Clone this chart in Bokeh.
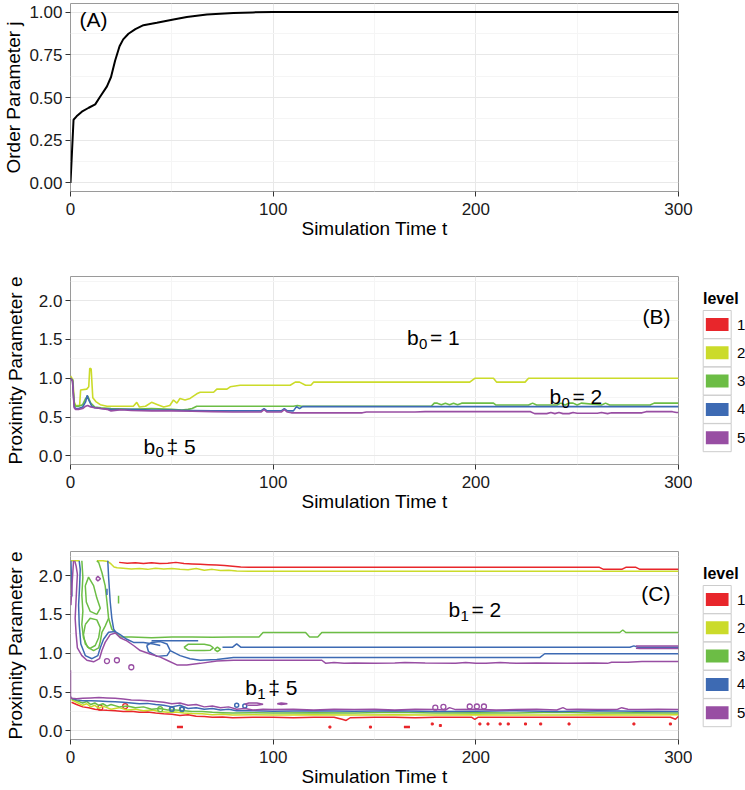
from bokeh.plotting import figure
from bokeh.models import Range1d, FixedTicker, PrintfTickFormatter, ColumnDataSource
from bokeh.layouts import column, row
from bokeh.embed import file_html
from bokeh.resources import INLINE
from bokeh.core.properties import value

FONT = "Liberation Sans"

# ---------------- data ----------------
x_ticks = [0, 100, 200, 300]
x_minor = [50, 150, 250]
a_y_ticks = [0, 0.25, 0.5, 0.75, 1.0]
a_y_minor = [0.125, 0.375, 0.625, 0.875]
e_ticks = [0, 0.5, 1.0, 1.5, 2.0]
e_minor = [0.25, 0.75, 1.25, 1.75, 2.25]
levels = ["1", "2", "3", "4", "5"]
level_colors = ["#E8262B", "#CBDB2A", "#6CBD45", "#3D6AB3", "#984EA3"]

# Panel A: order parameter
a_t = [0, 1.5, 3, 5.6, 9, 12.2, 14.6, 18, 20, 22, 24.2, 26, 28.6, 32, 36, 42.6, 50.8, 57.4, 67.3, 80.4, 90, 100, 300]
a_phi = [0.0, 0.37, 0.39, 0.417, 0.44, 0.46, 0.504, 0.565, 0.62, 0.715, 0.80, 0.84, 0.873, 0.90, 0.923, 0.937,
         0.956, 0.971, 0.985, 0.994, 0.998, 1.0, 1.0]

# Panel B: contour lines (levels 2-5)
b2_t = [0, 1.2, 1.8, 2.5, 4.5, 5, 8, 9, 9.5, 10.2, 11, 12.5, 14.7, 18, 25, 31, 32.7, 34, 37, 40, 43, 46, 49, 50.8,
        52.5, 54, 56.5, 59, 62.3, 64, 70.6, 72.2, 77.2, 78.8, 83.7, 108.4, 110.9, 113, 116, 118.6, 119.9, 197,
        199.5, 208.7, 210.3, 224.3, 226, 300]
b2_e = [1.03, 0.98, 0.70, 0.65, 0.65, 0.85, 0.86, 0.89, 1.13, 1.12, 0.75, 0.70, 0.66, 0.64, 0.64, 0.64, 0.69, 0.63,
        0.64, 0.69, 0.66, 0.63, 0.65, 0.72, 0.68, 0.74, 0.72, 0.74, 0.80, 0.82, 0.82, 0.86, 0.86, 0.89, 0.91, 0.91,
        0.95, 0.95, 0.91, 0.91, 0.95, 0.95, 1.0, 1.0, 0.95, 0.95, 1.0, 1.0]
b3_t = [0, 1, 1.8, 2.5, 4, 6, 7.5, 8.5, 10, 12, 15, 20, 30, 40, 50, 55, 58, 60, 62.3, 64, 70, 100, 110, 112, 114,
        178, 179.5, 181, 183, 185, 187, 189, 191, 193, 208.7, 210, 226, 228, 230, 240, 242, 244, 246, 248, 250,
        252, 262, 264, 266, 286, 288, 291.5, 300]
b3_e = [1.0, 0.98, 0.68, 0.64, 0.64, 0.66, 0.74, 0.77, 0.68, 0.63, 0.62, 0.61, 0.60, 0.61, 0.60, 0.59, 0.60, 0.61,
        0.64, 0.64, 0.64, 0.64, 0.64, 0.65, 0.64, 0.64, 0.68, 0.68, 0.66, 0.68, 0.66, 0.68, 0.66, 0.68, 0.68,
        0.655, 0.655, 0.68, 0.655, 0.655, 0.68, 0.655, 0.68, 0.68, 0.655, 0.68, 0.655, 0.68, 0.655, 0.655, 0.68,
        0.68, 0.68]
b4_t = [0, 1, 1.8, 2.5, 4, 6, 7.5, 8.2, 9, 10.5, 12, 15, 20, 30, 40, 50, 60, 70, 80, 94, 95.5, 97, 104, 105.5,
        107, 110, 111.5, 113, 114.5, 300]
b4_e = [1.0, 0.97, 0.64, 0.61, 0.61, 0.63, 0.70, 0.78, 0.72, 0.64, 0.62, 0.61, 0.60, 0.60, 0.59, 0.59, 0.585,
        0.58, 0.58, 0.58, 0.61, 0.58, 0.58, 0.61, 0.58, 0.58, 0.635, 0.61, 0.635, 0.635]
b5_t = [0, 1, 1.8, 2.5, 4, 6, 7.5, 8.5, 10, 12, 15, 18, 20, 25, 30, 40, 50, 60, 70, 80, 94, 95.5, 97, 104, 105.5,
        107, 109, 144, 146, 170, 175, 200, 227, 229, 235, 237, 239, 241, 243, 246, 248, 250, 260, 262, 265, 267,
        282, 284, 297, 299, 300]
b5_e = [1.0, 0.96, 0.62, 0.60, 0.60, 0.61, 0.64, 0.65, 0.63, 0.62, 0.61, 0.60, 0.58, 0.595, 0.585, 0.58, 0.58,
        0.575, 0.57, 0.565, 0.565, 0.595, 0.565, 0.565, 0.595, 0.565, 0.555, 0.555, 0.565, 0.565, 0.57, 0.57,
        0.57, 0.545, 0.545, 0.56, 0.545, 0.56, 0.545, 0.545, 0.56, 0.55, 0.55, 0.56, 0.545, 0.555, 0.555, 0.57,
        0.57, 0.56, 0.56]

# Panel C: contour lines (levels 1-5)
c1_top_t = [24, 28, 32, 36, 40, 44, 48, 52, 56, 60, 64, 68, 72, 76, 80, 84, 88, 261, 263, 272, 274, 279, 281, 300]
c1_top_e = [2.17, 2.16, 2.165, 2.155, 2.165, 2.155, 2.16, 2.17, 2.155, 2.15, 2.145, 2.14, 2.135, 2.13, 2.12,
            2.11, 2.106, 2.106, 2.08, 2.08, 2.106, 2.106, 2.08, 2.08]
c1_low_t = [0.5, 3, 6, 9, 12, 15, 18, 22, 26, 30, 34, 38, 42, 46, 50, 54, 58, 62, 66, 70, 75, 80, 90, 100, 110,
            120, 130, 134, 136, 138, 150, 160, 170, 180, 190, 198, 199.5, 201, 220, 240, 260, 280, 296, 298.5, 300]
c1_low_e = [0.37, 0.34, 0.31, 0.30, 0.28, 0.27, 0.265, 0.26, 0.25, 0.255, 0.24, 0.245, 0.23, 0.22, 0.215, 0.20,
            0.21, 0.19, 0.185, 0.175, 0.18, 0.17, 0.176, 0.176, 0.17, 0.176, 0.176, 0.15, 0.135, 0.17, 0.176,
            0.176, 0.17, 0.176, 0.176, 0.176, 0.15, 0.176, 0.176, 0.176, 0.176, 0.176, 0.176, 0.15, 0.19]
c1_dash_t = [[52.5, 55.5], [164.5, 167.5]]
c1_dash_e = [[0.05, 0.05], [0.05, 0.05]]
c1_dot_t = [128, 148, 178.5, 182.5, 202, 206, 212, 216, 224.5, 232, 246, 278, 296]
c1_dot_e = [0.05, 0.05, 0.09, 0.07, 0.09, 0.09, 0.09, 0.09, 0.09, 0.09, 0.09, 0.09, 0.09]
c1_ring_t = [14.7, 27]
c1_ring_e = [0.30, 0.32]

c2_seg_t = [[0, 4.5],
            [13, 16, 18.5, 20, 21.5, 23, 26, 30, 34, 38, 42, 46, 50, 54, 58, 62, 66, 70, 74, 78, 82, 88, 300],
            [0.5, 3, 6, 8, 10, 12, 14, 16, 18, 20, 24, 28, 32, 36, 40, 44, 48, 52, 56, 60, 65, 70, 75, 80, 90,
             100, 120, 140, 160, 180, 200, 220, 240, 260, 280, 300]]
c2_seg_e = [[2.19, 2.19],
            [2.19, 2.19, 2.18, 2.15, 2.11, 2.1, 2.095, 2.085, 2.09, 2.08, 2.095, 2.085, 2.09, 2.08, 2.075, 2.09,
             2.07, 2.08, 2.065, 2.07, 2.06, 2.055, 2.055],
            [0.40, 0.37, 0.33, 0.35, 0.31, 0.33, 0.29, 0.32, 0.30, 0.28, 0.30, 0.27, 0.28, 0.26, 0.27, 0.25, 0.24,
             0.245, 0.23, 0.225, 0.22, 0.21, 0.215, 0.205, 0.21, 0.205, 0.21, 0.205, 0.21, 0.205, 0.21, 0.205,
             0.205, 0.21, 0.205, 0.21]]

c3_seg_t = [[5.6, 6.1, 5.6, 6.1, 5.6, 6.4, 8.4, 11.4, 13.9, 14.7, 15.5, 17.1, 18.8, 18, 17.1, 15.5, 13.9, 13],
            [7.3, 9.7, 13, 14.7, 13.9, 12.2, 9.4, 7.3, 6.4, 7.3],
            [7.3, 8.9, 11.4, 13, 14.7, 13, 9.7, 7.8, 7.3],
            [18.8, 20.4, 22.1, 24.5, 30, 40, 50, 60, 70, 80, 88, 93, 95, 116, 118, 122, 124, 271, 272.5, 274, 300],
            [56, 58, 62, 66, 69, 70.5, 69, 66, 62, 58, 56],
            [71, 72.5, 74, 72.5, 71],
            [23.7, 23.7],
            [0.5, 3, 6, 8, 10, 12, 14, 16, 18, 20, 24, 28, 32, 36, 40, 44, 48, 52, 56, 60, 65, 70, 75, 80, 90, 100,
             120, 140, 160, 180, 200, 220, 240, 260, 280, 300]]
c3_seg_e = [[2.19, 1.98, 1.75, 1.54, 1.37, 1.2, 1.08, 1.035, 1.07, 1.15, 1.27, 1.35, 1.45, 1.66, 1.87, 2.04, 2.17,
             2.19],
            [1.37, 1.45, 1.43, 1.33, 1.2, 1.1, 1.06, 1.12, 1.24, 1.37],
            [1.87, 1.98, 1.87, 1.71, 1.58, 1.5, 1.54, 1.66, 1.87],
            [1.45, 1.31, 1.27, 1.21, 1.21, 1.2, 1.21, 1.21, 1.205, 1.21, 1.21, 1.21, 1.267, 1.267, 1.21, 1.21,
             1.267, 1.267, 1.30, 1.267, 1.267],
            [1.075, 1.115, 1.115, 1.115, 1.1, 1.07, 1.04, 1.035, 1.035, 1.04, 1.075],
            [1.05, 1.08, 1.05, 1.02, 1.05],
            [1.64, 1.74],
            [0.41, 0.39, 0.36, 0.38, 0.34, 0.36, 0.33, 0.35, 0.32, 0.34, 0.31, 0.32, 0.30, 0.31, 0.28, 0.29, 0.27,
             0.27, 0.26, 0.25, 0.25, 0.24, 0.235, 0.23, 0.235, 0.23, 0.235, 0.23, 0.24, 0.23, 0.235, 0.23, 0.24,
             0.23, 0.235, 0.23]]
c3_ring_t = [44.3, 50, 55]
c3_ring_e = [0.28, 0.28, 0.28]

c4_seg_t = [[0.2, 0.5, 0.7],
            [4.3, 4.8, 4.5, 4.0, 4.3, 5.1, 7.3, 10.6, 13.5, 14.7, 16.3, 18.8, 22.1, 24.5, 27.8, 31.1, 36, 41, 44.3],
            [18.4, 18.8, 19.6, 20.4, 21.3, 22.1],
            [37.6, 40.1, 44.3, 47.6, 49.2, 47.6, 42.7, 38.5, 37.6],
            [49.2, 54.1, 59, 64, 72.2, 80.4, 231.5, 234, 300],
            [40, 63],
            [75, 80, 82, 84, 86, 276, 278, 280, 300],
            [18, 18],
            [0.5, 3, 6, 10, 14, 18, 22, 26, 30, 34, 38, 42, 46, 50, 54, 58, 62, 66, 70, 74, 78, 82, 90, 100, 120,
             140, 160, 180, 200, 220, 240, 260, 280, 300]]
c4_seg_e = [[2.19, 1.95, 1.73],
            [2.19, 2.08, 1.87, 1.62, 1.37, 1.12, 0.97, 0.93, 0.97, 1.07, 1.18, 1.27, 1.28, 1.24, 1.18, 1.14, 1.14,
             1.12, 1.1],
            [2.19, 1.98, 1.66, 1.45, 1.31, 1.28],
            [1.1, 1.14, 1.15, 1.12, 1.035, 0.97, 0.96, 1.02, 1.1],
            [1.035, 0.97, 0.93, 0.91, 0.92, 0.944, 0.944, 0.994, 0.994],
            [1.16, 1.16],
            [1.078, 1.078, 1.12, 1.078, 1.078, 1.078, 1.095, 1.078, 1.078],
            [1.75, 1.83],
            [0.42, 0.40, 0.39, 0.39, 0.385, 0.38, 0.375, 0.37, 0.36, 0.35, 0.355, 0.34, 0.33, 0.31, 0.33, 0.29,
             0.30, 0.28, 0.29, 0.27, 0.28, 0.26, 0.26, 0.255, 0.26, 0.255, 0.26, 0.25, 0.255, 0.26, 0.25, 0.26,
             0.255, 0.25]]
c4_ring_t = [50, 55, 82, 86]
c4_ring_e = [0.28, 0.28, 0.33, 0.32]

c5_seg_t = [[2.1, 2.8, 3.4, 3.1, 2.3, 2.8, 3.4, 5.6, 8.1, 11.4, 14.3, 15.5, 17.1, 19.6, 22.1, 24.5, 27.8, 31.1,
             34.4, 39.3, 44.3, 47.6, 52.5, 57.4, 64, 72.2, 80.4, 124, 126, 130, 135, 140, 150, 160, 165, 175, 190,
             195, 200, 205, 212, 220, 230, 245, 258, 265, 267, 275, 282, 300],
            [0.2, 0.8, 1.5],
            [12.5, 13.5, 14.8, 13.5, 12.5],
            [279, 281, 300],
            [279, 281, 300],
            [86, 88, 92, 95, 92, 88, 86],
            [102, 104, 107, 104, 102],
            [0, 0, 0.5, 3, 6, 10, 14, 18, 22, 26, 30, 34, 38, 42, 46, 50, 54, 58, 62, 66, 70, 74, 78, 82, 86, 90,
             95, 100, 110, 120, 130, 140, 150, 160, 170, 180, 185, 187, 190, 200, 210, 220, 230, 240, 243, 245,
             250, 260, 270, 272, 275, 280, 290, 300]]
c5_seg_e = [[2.19, 2.12, 2.02, 1.87, 1.45, 1.24, 1.07, 0.97, 0.91, 0.89, 0.93, 1.035, 1.14, 1.24, 1.26, 1.2, 1.16,
             1.1, 1.035, 0.99, 0.95, 0.91, 0.85, 0.85, 0.87, 0.9, 0.91, 0.91, 0.87, 0.88, 0.87, 0.875, 0.87, 0.875,
             0.88, 0.875, 0.87, 0.88, 0.87, 0.87, 0.88, 0.87, 0.875, 0.87, 0.875, 0.87, 0.885, 0.885, 0.893,
             0.893],
            [1.62, 1.9, 2.19],
            [1.96, 1.99, 1.96, 1.93, 1.96],
            [1.092, 1.095, 1.095],
            [1.064, 1.06, 1.06],
            [0.345, 0.36, 0.36, 0.345, 0.33, 0.33, 0.345],
            [0.35, 0.36, 0.35, 0.34, 0.35],
            [0.78, 0.45, 0.42, 0.415, 0.42, 0.425, 0.43, 0.425, 0.42, 0.41, 0.4, 0.395, 0.39, 0.38, 0.37, 0.35,
             0.36, 0.33, 0.34, 0.31, 0.32, 0.3, 0.31, 0.28, 0.29, 0.27, 0.28, 0.275, 0.28, 0.27, 0.28, 0.275,
             0.28, 0.27, 0.28, 0.275, 0.27, 0.3, 0.275, 0.28, 0.27, 0.275, 0.28, 0.27, 0.3, 0.275, 0.28, 0.275,
             0.28, 0.3, 0.28, 0.275, 0.28, 0.275]]
c5_ring_t = [18, 22.9, 30, 180, 184, 197, 200.5, 204]
c5_ring_e = [0.9, 0.91, 0.82, 0.3, 0.31, 0.315, 0.315, 0.315]

# annotations
b_ann_t = [166, 236.3, 36]
b_ann_e = [1.52, 0.76, 0.123]
b_ann_sub = ["0", "0", "0"]
b_ann_rest = [" = 1", " = 2", " \u2021 5"]
c_ann_t = [186.5, 86.2]
c_ann_e = [1.56, 0.553]
c_ann_sub = ["1", "1"]
c_ann_rest = [" = 2", " \u2021 5"]

# ---------------- helpers ----------------
PAGE_W = 745
LEFT = 70
FRAME_W = 608
FRAME_H = 188
FIG_W_LEG = 692
LEG_W = PAGE_W - FIG_W_LEG


def make_panel(width, height, top, bottom, right, yr, yticks, yminor, fmt, ylabel, ylab_standoff):
    p = figure(width=width, height=height, x_range=Range1d(0, 300), y_range=Range1d(*yr),
               output_backend="svg", toolbar_location=None,
               min_border_left=LEFT, min_border_right=right, min_border_top=top, min_border_bottom=bottom)
    p.outline_line_color = "#9a9a9a"
    p.outline_line_width = 1
    xt = FixedTicker(ticks=x_ticks, minor_ticks=x_minor)
    yt = FixedTicker(ticks=yticks, minor_ticks=yminor)
    p.xaxis.ticker = xt
    p.yaxis.ticker = yt
    p.xgrid.ticker = xt
    p.ygrid.ticker = yt
    p.yaxis.formatter = PrintfTickFormatter(format=fmt)
    for g in (p.xgrid[0], p.ygrid[0]):
        g.grid_line_color = "#e8e8e8"
        g.minor_grid_line_color = "#f5f5f5"
    for ax in (p.xaxis[0], p.yaxis[0]):
        ax.axis_line_color = None
        ax.major_tick_line_color = "#333333"
        ax.major_tick_out = 5
        ax.major_tick_in = 0
        ax.minor_tick_line_color = None
        ax.major_label_text_font = FONT
        ax.major_label_text_font_size = "17px"
        ax.major_label_text_color = "#1a1a1a"
        ax.major_label_standoff = 3
        ax.axis_label_text_font = FONT
        ax.axis_label_text_font_size = "19px"
        ax.axis_label_text_font_style = "normal"
        ax.axis_label_text_color = "#000000"
    p.xaxis.axis_label = "Simulation Time t"
    p.xaxis.major_label_standoff = 6
    p.xaxis.axis_label_standoff = 0
    p.yaxis.axis_label = ylabel
    p.yaxis.axis_label_standoff = ylab_standoff
    return p


def tag(p, x, y, txt, align):
    p.text(x=[x], y=[y], text=[txt], text_align=align, text_baseline="middle",
           text_font=value(FONT), text_font_size="21px", text_color="#000000")


def sub_annotations(p, ts, es, subs, rests):
    src = ColumnDataSource(dict(x=ts, y=es, b=["b"] * len(ts), s=subs, r=rests))
    common = dict(x="x", y="y", source=src, text_baseline="alphabetic", text_align="left",
                  text_font=value(FONT), text_color="#000000")
    p.text(text="b", text_font_size="21px", **common)
    p.text(text="s", text_font_size="15px", x_offset=12, y_offset=6, **common)
    p.text(text="r", text_font_size="21px", x_offset=23, **common)


def make_legend(height, top, bottom):
    lg = figure(width=LEG_W, height=height, x_range=Range1d(0, LEG_W), y_range=Range1d(FRAME_H, 0),
                output_backend="svg", toolbar_location=None, min_border_left=0, min_border_right=0,
                min_border_top=top, min_border_bottom=bottom,
                x_axis_type=None, y_axis_type=None)
    lg.outline_line_color = None
    ys = [48 + i * 28.3 for i in range(len(levels))]
    kx = [24.7] * len(levels)
    lg.rect(x=kx, y=ys, width=28, height=28, fill_color="white", line_color="#cccccc", line_width=1)
    lg.rect(x=kx, y=ys, width=22.7, height=13, fill_color=level_colors, line_color=None)
    lg.text(x=[44.5] * len(levels), y=ys, text=levels, text_baseline="middle", text_align="left",
            text_font=value(FONT), text_font_size="15px", text_color="#000000")
    lg.text(x=[10.5], y=[21.5], text=["level"], text_baseline="middle", text_align="left",
            text_font=value(FONT), text_font_size="16px", text_font_style="bold", text_color="#000000")
    return lg


# ---------------- panel A ----------------
A_TOP, A_BOT = 3, 50
B_TOP, B_BOT = 35, 50
C_TOP, C_BOT = 37, 50
HA = A_TOP + FRAME_H + A_BOT
HB = B_TOP + FRAME_H + B_BOT
HC = C_TOP + FRAME_H + C_BOT

pa = make_panel(PAGE_W, HA, A_TOP, A_BOT, PAGE_W - LEFT - FRAME_W, (-0.05, 1.05), a_y_ticks, a_y_minor,
                "%.2f", "Order Parameter j", 2)
pa.line(a_t, a_phi, line_color="#000000", line_width=2)
tag(pa, 4.4, 0.958, "(A)", "left")

# ---------------- panel B ----------------
pb = make_panel(FIG_W_LEG, HB, B_TOP, B_BOT, FIG_W_LEG - LEFT - FRAME_W, (-0.11, 2.31), e_ticks, e_minor,
                "%.1f", "Proximity Parameter e", 10)
for tt, ee, col in ((b2_t, b2_e, level_colors[1]), (b3_t, b3_e, level_colors[2]),
                    (b4_t, b4_e, level_colors[3]), (b5_t, b5_e, level_colors[4])):
    pb.line(tt, ee, line_color=col, line_width=1.6)
tag(pb, 296, 1.8, "(B)", "right")
sub_annotations(pb, b_ann_t, b_ann_e, b_ann_sub, b_ann_rest)
lb = make_legend(HB, B_TOP, B_BOT)

# ---------------- panel C ----------------
pc = make_panel(FIG_W_LEG, HC, C_TOP, C_BOT, FIG_W_LEG - LEFT - FRAME_W, (-0.11, 2.31), e_ticks, e_minor,
                "%.1f", "Proximity Parameter e", 10)
LW = 1.5
pc.line(c1_low_t, c1_low_e, line_color=level_colors[0], line_width=LW)
pc.line(c1_top_t, c1_top_e, line_color=level_colors[0], line_width=LW)
pc.multi_line(c1_dash_t, c1_dash_e, line_color=level_colors[0], line_width=2.5)
pc.scatter(c1_dot_t, c1_dot_e, marker="square", size=2, color=level_colors[0])
pc.scatter(c1_ring_t, c1_ring_e, marker="circle", size=5, fill_color=None,
           line_color=level_colors[0], line_width=1.3)
pc.multi_line(c2_seg_t, c2_seg_e, line_color=level_colors[1], line_width=LW)
pc.multi_line(c3_seg_t, c3_seg_e, line_color=level_colors[2], line_width=LW)
pc.scatter(c3_ring_t, c3_ring_e, marker="circle", size=5, fill_color=None,
           line_color=level_colors[2], line_width=1.3)
pc.multi_line(c4_seg_t, c4_seg_e, line_color=level_colors[3], line_width=LW)
pc.scatter(c4_ring_t, c4_ring_e, marker="circle", size=4, fill_color=None,
           line_color=level_colors[3], line_width=1.5)
pc.multi_line(c5_seg_t, c5_seg_e, line_color=level_colors[4], line_width=LW)
pc.scatter(c5_ring_t, c5_ring_e, marker="circle", size=5, fill_color=None,
           line_color=level_colors[4], line_width=1.3)
tag(pc, 296, 1.77, "(C)", "right")
sub_annotations(pc, c_ann_t, c_ann_e, c_ann_sub, c_ann_rest)
lc = make_legend(HC, C_TOP, C_BOT)

layout = column(pa, row(pb, lb), row(pc, lc))
open("out.html", "w").write(file_html(layout, INLINE))
